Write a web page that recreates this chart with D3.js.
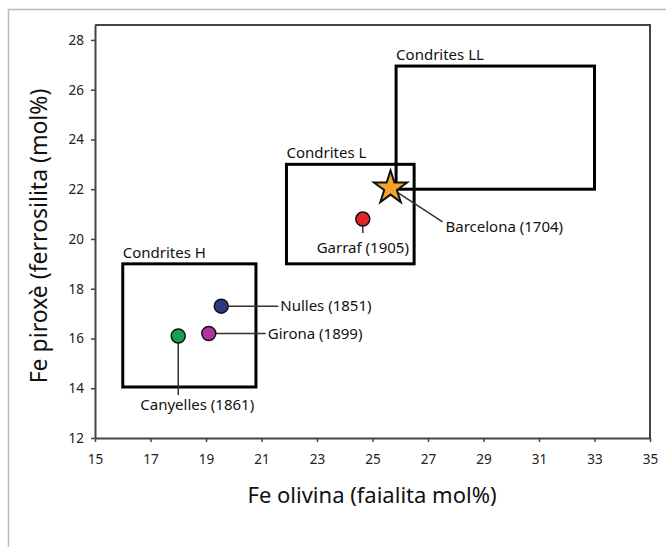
<!DOCTYPE html>
<html><head><meta charset="utf-8">
<script src="https://cdn.jsdelivr.net/npm/d3@7"></script>
<style>body{margin:0;background:#fff;} svg{display:block;}</style>
</head><body>
<script>
// Data
const xTicks = [15,17,19,21,23,25,27,29,31,33,35];
const yTicks = [12,14,16,18,20,22,24,26,28];
const boxNames = ["Condrites H","Condrites L","Condrites LL"];
const boxX0 = [16.0, 21.9, 25.85];
const boxX1 = [20.8, 26.5, 33.0];
const boxY0 = [14.05, 19.0, 22.0];
const boxY1 = [19.0, 23.0, 26.95];
const meteorNames = ["Canyelles (1861)","Girona (1899)","Nulles (1851)","Garraf (1905)","Barcelona (1704)"];
const meteorFa = [18.0, 19.1, 19.55, 24.65, 25.65];
const meteorFs = [16.1, 16.2, 17.3, 20.8, 22.05];
const meteorColors = ["#16a04c","#b0329c","#2c3a85","#e3262b","#f3a328"];

const W=666,H=547;
const svg=d3.select("body").append("svg").attr("width",W).attr("height",H);
const font="'Noto Sans', 'Open Sans', sans-serif";

// outer light frame
svg.append("path").attr("d","M8.5,560 L8.5,9.5 L680,9.5").attr("fill","none").attr("stroke","#bdbdbd").attr("stroke-width",1.5);

const x=d3.scaleLinear().domain([15,35]).range([95,650]);
const y=d3.scaleLinear().domain([12,28.6]).range([438,25]);

// axes
const gx=svg.append("g").attr("transform",`translate(0,${y(12)})`)
  .call(d3.axisBottom(x).tickValues(xTicks).tickSize(4).tickSizeOuter(0).tickPadding(12));
const gy=svg.append("g").attr("transform",`translate(${x(15)},0)`)
  .call(d3.axisLeft(y).tickValues(yTicks).tickSize(4).tickSizeOuter(0).tickPadding(7));
[gx,gy].forEach(g=>{
  g.select(".domain").attr("stroke","#444").attr("stroke-width",2);
  g.selectAll(".tick line").attr("stroke","#444").attr("stroke-width",1.5);
  g.selectAll(".tick text").attr("font-family",font).attr("font-size",13.5).attr("fill","#222");
});
// top & right frame
svg.append("path").attr("d",`M${x(15)},${y(28.6)} L${x(35)},${y(28.6)} L${x(35)},${y(12)}`)
  .attr("fill","none").attr("stroke","#444").attr("stroke-width",2);

// boxes
boxNames.forEach((n,i)=>{
  svg.append("rect").attr("x",x(boxX0[i])).attr("y",y(boxY1[i]))
    .attr("width",x(boxX1[i])-x(boxX0[i])).attr("height",y(boxY0[i])-y(boxY1[i]))
    .attr("fill","none").attr("stroke","#000").attr("stroke-width",3);
  svg.append("text").attr("x",x(boxX0[i])).attr("y",y(boxY1[i])-6)
    .attr("font-family",font).attr("font-size",15).attr("fill","#111").text(n);
});

// leader lines and labels
const leaderStyle=sel=>sel.attr("stroke","#333").attr("stroke-width",1.5);
const px=i=>x(meteorFa[i]), py=i=>y(meteorFs[i]);
// Canyelles
leaderStyle(svg.append("line").attr("x1",px(0)).attr("y1",py(0)).attr("x2",px(0)).attr("y2",py(0)+59));
// Girona
leaderStyle(svg.append("line").attr("x1",px(1)).attr("y1",py(1)).attr("x2",px(1)+57).attr("y2",py(1)));
// Nulles
leaderStyle(svg.append("line").attr("x1",px(2)).attr("y1",py(2)).attr("x2",px(2)+57).attr("y2",py(2)));
// Garraf
leaderStyle(svg.append("line").attr("x1",px(3)).attr("y1",py(3)).attr("x2",px(3)).attr("y2",py(3)+14));
// Barcelona
leaderStyle(svg.append("line").attr("x1",px(4)).attr("y1",py(4)).attr("x2",px(4)+52).attr("y2",py(4)+34));

const lab=(t,xx,yy,anchor)=>svg.append("text").attr("x",xx).attr("y",yy).attr("text-anchor",anchor||"start")
  .attr("font-family",font).attr("font-size",15).attr("fill","#111").text(t);
lab(meteorNames[0],px(0)+19,py(0)+74,"middle");
lab(meteorNames[1],px(1)+59,py(1)+5);
lab(meteorNames[2],px(2)+59,py(2)+5);
lab(meteorNames[3],px(3),py(3)+34,"middle");
lab(meteorNames[4],px(4)+55,py(4)+44);

// circles
[0,1,2,3].forEach(i=>{
  svg.append("circle").attr("cx",px(i)).attr("cy",py(i)).attr("r",7)
    .attr("fill",meteorColors[i]).attr("stroke","#111").attr("stroke-width",1.5);
});
// star
const star=d3.symbol().type(d3.symbolStar).size(340);
svg.append("path").attr("d",star()).attr("transform",`translate(${px(4)},${py(4)})`)
  .attr("fill",meteorColors[4]).attr("stroke","#111").attr("stroke-width",2).attr("stroke-linejoin","miter");

// axis titles
svg.append("text").attr("x",372).attr("y",503).attr("text-anchor","middle")
  .attr("font-family",font).attr("font-size",22).attr("fill","#111").text("Fe olivina (faialita mol%)");
svg.append("text").attr("transform",`translate(47,236) rotate(-90)`).attr("text-anchor","middle")
  .attr("font-family",font).attr("font-size",23).attr("fill","#111").text("Fe piroxè (ferrosilita (mol%)");
</script>
</body></html>
